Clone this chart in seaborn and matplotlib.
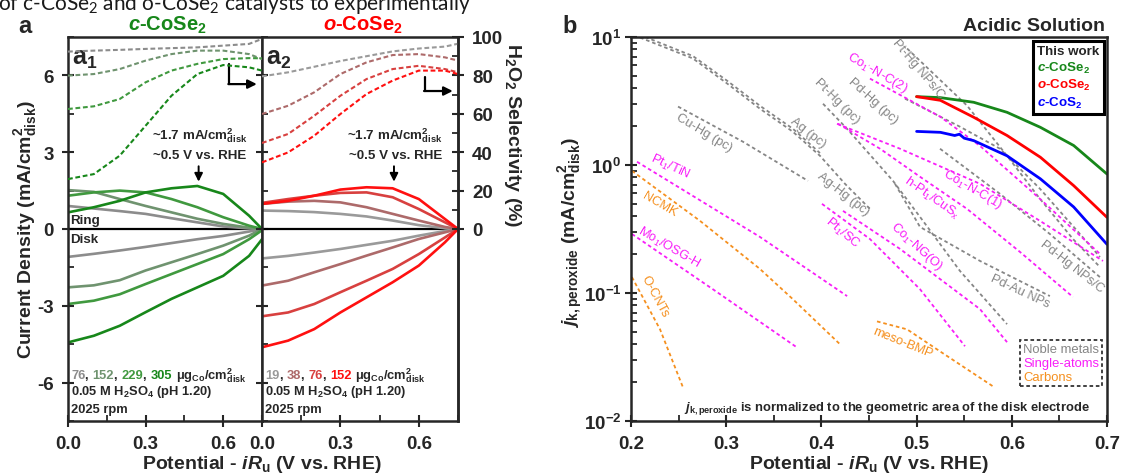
import numpy as np
import pandas as pd
import matplotlib
matplotlib.use('Agg')
import matplotlib.pyplot as plt
import seaborn as sns
from matplotlib.offsetbox import TextArea, HPacker, AnnotationBbox
from matplotlib.ticker import MultipleLocator, LogLocator, NullFormatter
from matplotlib.lines import Line2D

# ---------------- data: panel a1 (c-CoSe2) ----------------
pot_a = [0.0, 0.1, 0.2, 0.3, 0.4, 0.5, 0.6, 0.7, 0.75]
c_loadings = ['76', '152', '229', '305']
c_disk_76 = [-1.09, -0.97, -0.84, -0.70, -0.55, -0.40, -0.27, -0.10, 0.0]
c_disk_152 = [-2.28, -2.20, -2.00, -1.62, -1.30, -0.98, -0.65, -0.26, 0.0]
c_disk_229 = [-2.93, -2.80, -2.55, -2.15, -1.76, -1.37, -0.98, -0.40, -0.05]
c_disk_305 = [-4.43, -4.17, -3.78, -3.25, -2.73, -2.28, -1.83, -1.05, -0.40]
c_ring_76 = [0.90, 0.80, 0.70, 0.59, 0.42, 0.26, 0.10, 0.02, 0.0]
c_ring_152 = [1.52, 1.45, 1.17, 0.90, 0.65, 0.40, 0.20, 0.05, 0.0]
c_ring_229 = [1.30, 1.43, 1.50, 1.43, 1.17, 0.85, 0.46, 0.13, 0.0]
c_ring_305 = [0.65, 0.85, 1.10, 1.43, 1.59, 1.68, 1.37, 0.52, 0.0]
c_sel_76 = [92.4, 92.9, 93.3, 93.8, 94.2, 94.6, 95.5, 96.4, 99.0]
c_sel_152 = [79.9, 80.7, 83.3, 87.7, 91.1, 92.9, 92.9, 91.1, 88.5]
c_sel_229 = [62.5, 63.9, 67.7, 76.4, 82.5, 86.0, 88.5, 89.0, 88.9]
c_sel_305 = [26.0, 28.6, 38.2, 53.8, 69.4, 80.7, 85.4, 84.2, 82.5]

# ---------------- data: panel a2 (o-CoSe2) ----------------
o_loadings = ['19', '38', '76', '152']
o_disk_19 = [-1.15, -1.05, -0.92, -0.78, -0.62, -0.46, -0.26, -0.08, 0.0]
o_disk_38 = [-2.21, -2.02, -1.69, -1.37, -1.04, -0.72, -0.39, -0.13, 0.0]
o_disk_76 = [-3.41, -3.26, -2.93, -2.47, -2.02, -1.56, -0.98, -0.33, 0.0]
o_disk_152 = [-4.62, -4.36, -3.91, -3.26, -2.67, -2.08, -1.43, -0.52, 0.0]
o_ring_19 = [0.72, 0.70, 0.66, 0.59, 0.49, 0.33, 0.15, 0.03, 0.0]
o_ring_38 = [0.98, 1.07, 1.10, 1.04, 0.85, 0.59, 0.33, 0.08, 0.0]
o_ring_76 = [1.02, 1.17, 1.30, 1.41, 1.43, 1.24, 0.78, 0.26, 0.0]
o_ring_152 = [0.98, 1.10, 1.30, 1.54, 1.63, 1.59, 1.17, 0.39, 0.0]
o_sel_19 = [79.5, 81.6, 84.5, 87.5, 90.0, 92.5, 94.0, 95.0, 96.5]
o_sel_38 = [59.9, 64.2, 71.2, 80.7, 86.8, 90.6, 91.1, 89.4, 87.7]
o_sel_76 = [44.8, 49.5, 59.0, 69.4, 78.1, 83.3, 85.0, 83.3, 81.6]
o_sel_152 = [34.7, 39.9, 48.6, 59.9, 70.3, 77.3, 82.5, 82.5, 80.7]

# ---------------- data: panel b ----------------
tw_v = [0.5, 0.525, 0.56, 0.595, 0.63, 0.665, 0.7]
ccose2_j = [3.42, 3.36, 3.09, 2.58, 1.97, 1.42, 0.85]
ocose2_j = [3.42, 3.20, 2.36, 1.70, 1.15, 0.69, 0.39]
ccos2_v = [0.5, 0.525, 0.54, 0.545, 0.55, 0.56, 0.595, 0.63, 0.665, 0.7]
ccos2_j = [1.83, 1.80, 1.70, 1.74, 1.62, 1.55, 1.18, 0.78, 0.47, 0.24]

# noble metals
agpc_v = [0.215, 0.265, 0.301, 0.3355, 0.370, 0.3985]
agpc_j = [10.0, 7.1, 4.55, 2.9, 1.92, 1.24]
aghg_v = [0.2095, 0.265, 0.301, 0.3355, 0.370, 0.3985, 0.425, 0.451]
aghg_j = [9.9, 6.8, 4.33, 2.75, 1.82, 1.18, 0.71, 0.454]
cuhg_v = [0.2494, 0.3176, 0.3859]
cuhg_j = [2.86, 1.52, 0.752]
pthg_v = [0.4017, 0.4269, 0.4752, 0.5067, 0.5456, 0.595]
pthg_j = [3.01, 1.92, 0.752, 0.366, 0.1485, 0.0571]
pdhg_v = [0.4878, 0.5456, 0.5876, 0.6296, 0.6716, 0.6926]
pdhg_j = [3.30, 1.99, 1.34, 0.652, 0.289, 0.191]
pthgnp_v = [0.49, 0.553, 0.595, 0.6296, 0.6643, 0.6926]
pthgnp_j = [8.13, 2.91, 1.18, 0.544, 0.264, 0.1595]
pdhgnp_v = [0.5246, 0.5876, 0.64, 0.6926]
pdhgnp_j = [1.34, 0.595, 0.289, 0.133]
pdau_v = [0.4773, 0.5036, 0.5666, 0.64]
pdau_j = [0.713, 0.328, 0.178, 0.0946]
# single atoms
pttin_v = [0.2063, 0.3355, 0.427]
pttin_j = [1.06, 0.274, 0.0946]
mo_v = [0.201, 0.286, 0.374]
mo_j = [0.289, 0.107, 0.0377]
ptsc_v = [0.4006, 0.451, 0.5036, 0.5508]
ptsc_j = [0.497, 0.264, 0.107, 0.0384]
cong_v = [0.4227, 0.4826, 0.5666, 0.595]
cong_j = [0.438, 0.221, 0.0748, 0.0413]
conc2_v = [0.451, 0.5246, 0.5666, 0.6296, 0.6926]
conc2_j = [4.73, 2.39, 1.41, 0.544, 0.202]
conc1_v = [0.4164, 0.4826, 0.5666, 0.6296, 0.6958]
conc1_j = [2.10, 1.34, 0.713, 0.366, 0.178]
hpt_v = [0.4174, 0.4616, 0.5036, 0.553, 0.6087, 0.6643]
hpt_j = [2.10, 1.34, 0.809, 0.454, 0.209, 0.093]
# carbons
ncmk_v = [0.201, 0.2725, 0.3355, 0.370, 0.4195]
ncmk_j = [0.90, 0.366, 0.154, 0.0895, 0.0398]
ocnt_v = [0.201, 0.2305, 0.2546]
ocnt_j = [0.133, 0.052, 0.0183]
meso_v = [0.4584, 0.49, 0.5246, 0.580]
meso_j = [0.060, 0.052, 0.035, 0.0187]

# ---------------- style ----------------
sns.set_style('ticks')
plt.rcParams['font.family'] = ['Liberation Sans', 'DejaVu Sans']
plt.rcParams['font.weight'] = 'bold'
plt.rcParams['axes.labelweight'] = 'bold'
plt.rcParams['axes.unicode_minus'] = False
plt.rcParams['mathtext.fontset'] = 'custom'
plt.rcParams['mathtext.rm'] = 'Liberation Sans:bold'
plt.rcParams['mathtext.it'] = 'Liberation Sans:bold:italic'
plt.rcParams['mathtext.bf'] = 'Liberation Sans:bold'
plt.rcParams['mathtext.default'] = 'regular'

C_COLS = ['#8c8c8c', '#6f936f', '#40993f', '#17871a']
O_COLS = ['#9a9a9a', '#ad6a6a', '#d8403f', '#ff1010']
GRAY = '#868686'
MAG = '#f81ef8'
ORG = '#f5901f'
DASH_A = (0, (2.3, 1.3))
DASH_B = (0, (2.0, 1.6))
TICK = 13.5

W, H = 1121, 477
fig = plt.figure(figsize=(W / 100, H / 100), dpi=100)
ax1 = fig.add_axes([68 / W, 55 / H, 194 / W, 384 / H])
ax2 = fig.add_axes([262 / W, 55 / H, 196 / W, 384 / H])
axb = fig.add_axes([631 / W, 55 / H, 476 / W, 384 / H])
t1 = ax1.twinx()
t2 = ax2.twinx()


def style_a(ax, left_labels):
    ax.set_xlim(0, 0.75)
    ax.set_ylim(-7.5, 7.5)
    ax.xaxis.set_major_locator(MultipleLocator(0.3))
    ax.xaxis.set_minor_locator(MultipleLocator(0.15))
    ax.yaxis.set_major_locator(MultipleLocator(3))
    ax.yaxis.set_minor_locator(MultipleLocator(1.5))
    ax.tick_params(which='major', direction='inout', length=8, width=1.5,
                   labelsize=TICK, pad=6, top=False, right=False, labelleft=left_labels)
    ax.tick_params(which='minor', direction='in', length=4, width=1.3, top=False, right=False)
    for s in ax.spines.values():
        s.set_linewidth(1.8)
        s.set_visible(True)
    ax.axhline(0, color='black', lw=1.6, zorder=1)


style_a(ax1, True)
style_a(ax2, False)

for t in (t1, t2):
    t.set_ylim(-100, 100)
    t.yaxis.set_major_locator(MultipleLocator(20))
    t.yaxis.set_minor_locator(MultipleLocator(10))
t1.set_axis_off()
t2.set_yticks([0, 20, 40, 60, 80, 100])
t2.set_yticks([10, 30, 50, 70, 90], minor=True)
t2.tick_params(which='major', direction='inout', length=8, width=1.5, labelsize=TICK, pad=6)
t2.tick_params(which='minor', direction='in', length=4, width=1.3)
for k in ('left', 'top', 'bottom'):
    t2.spines[k].set_visible(False)
t2.spines['right'].set_linewidth(1.8)


def plot_set(ax, tax, disks, rings, sels, cols):
    for d, r, s, c in zip(disks, rings, sels, cols):
        sns.lineplot(x=pot_a, y=d, ax=ax, color=c, lw=1.9, estimator=None, sort=False)
        sns.lineplot(x=pot_a, y=r, ax=ax, color=c, lw=1.9, estimator=None, sort=False)
        sns.lineplot(x=pot_a, y=s, ax=tax, color=c, lw=1.5, linestyle=DASH_A,
                     estimator=None, sort=False)


plot_set(ax1, t1, [c_disk_76, c_disk_152, c_disk_229, c_disk_305],
         [c_ring_76, c_ring_152, c_ring_229, c_ring_305],
         [c_sel_76, c_sel_152, c_sel_229, c_sel_305], C_COLS)
plot_set(ax2, t2, [o_disk_19, o_disk_38, o_disk_76, o_disk_152],
         [o_ring_19, o_ring_38, o_ring_76, o_ring_152],
         [o_sel_19, o_sel_38, o_sel_76, o_sel_152], O_COLS)
for a in (ax1, ax2, t1, t2):
    a.set_xlabel('')
    a.set_ylabel('')
t1.set_ylim(-100, 100)
t2.set_ylim(-100, 100)


def multicolor(ax, x, y, parts, size=9.3):
    boxes = [TextArea(s, textprops=dict(color=c, fontsize=size, fontweight='bold'))
             for s, c in parts]
    pack = HPacker(children=boxes, align='baseline', pad=0, sep=0)
    ab = AnnotationBbox(pack, (x, y), xycoords='data', box_alignment=(0, 0.5),
                        frameon=False, pad=0)
    ax.add_artist(ab)


TXT = '#262626'
for ax, labs, cols, sub, arrow_y in ((ax1, c_loadings, C_COLS, '1', (6.45, 5.66)),
                                     (ax2, o_loadings, O_COLS, '2', (5.94, 5.39))):
    ax.text(0.016, 6.45, 'a$_%s$' % sub, fontsize=18, ha='left', va='baseline')
    ax.text(0.51, 3.67, '~1.7 mA/cm$^{2}_{disk}$', fontsize=9.6, ha='center', va='center')
    ax.text(0.51, 2.89, '~0.5 V vs. RHE', fontsize=9.6, ha='center', va='center')
    ax.annotate('', xy=(0.505, 1.85), xytext=(0.505, 2.45),
                arrowprops=dict(arrowstyle='-|>', color='black', lw=1.4,
                                mutation_scale=12, shrinkA=0, shrinkB=0))
    ax.plot([0.622, 0.622], [arrow_y[0], arrow_y[1]], color='black', lw=1.6)
    ax.annotate('', xy=(0.73, arrow_y[1]), xytext=(0.62, arrow_y[1]),
                arrowprops=dict(arrowstyle='-|>', color='black', lw=1.6,
                                mutation_scale=13, shrinkA=0, shrinkB=0))
    parts = []
    for i, (l, c) in enumerate(zip(labs, cols)):
        parts.append((l, c))
        parts.append((', ' if i < 3 else ' ', TXT))
    parts.append(('μg$_{Co}$/cm$^{2}_{disk}$', TXT))
    multicolor(ax, 0.012, -5.68, parts)
    ax.text(0.012, -6.33, '0.05 M H$_2$SO$_4$ (pH 1.20)', fontsize=9.3, color=TXT,
            ha='left', va='center')
    ax.text(0.012, -7.03, '2025 rpm', fontsize=9.3, color=TXT, ha='left', va='center')

ax1.text(0.01, 0.12, 'Ring', fontsize=9.6, color=TXT, ha='left', va='bottom')
ax1.text(0.01, -0.15, 'Disk', fontsize=9.6, color=TXT, ha='left', va='top')

# ---------------- panel b ----------------
axb.set_yscale('log')
lines_b = [
    (agpc_v, agpc_j, GRAY), (aghg_v, aghg_j, GRAY), (cuhg_v, cuhg_j, GRAY),
    (pthg_v, pthg_j, GRAY), (pdhg_v, pdhg_j, GRAY), (pthgnp_v, pthgnp_j, GRAY),
    (pdhgnp_v, pdhgnp_j, GRAY), (pdau_v, pdau_j, GRAY),
    (pttin_v, pttin_j, MAG), (mo_v, mo_j, MAG), (ptsc_v, ptsc_j, MAG),
    (cong_v, cong_j, MAG), (conc2_v, conc2_j, MAG), (conc1_v, conc1_j, MAG),
    (hpt_v, hpt_j, MAG),
    (ncmk_v, ncmk_j, ORG), (ocnt_v, ocnt_j, ORG), (meso_v, meso_j, ORG),
]
for v, j, c in lines_b:
    sns.lineplot(x=v, y=j, ax=axb, color=c, lw=1.3, linestyle=DASH_B,
                 estimator=None, sort=False)
sns.lineplot(x=tw_v, y=ccose2_j, ax=axb, color='#17871a', lw=2.0, estimator=None, sort=False)
sns.lineplot(x=tw_v, y=ocose2_j, ax=axb, color='#ff0000', lw=2.0, estimator=None, sort=False)
sns.lineplot(x=ccos2_v, y=ccos2_j, ax=axb, color='#0000ff', lw=2.0, estimator=None, sort=False)
axb.set_xlabel('')
axb.set_ylabel('')
axb.set_xlim(0.2, 0.7)
axb.set_ylim(0.01, 10)
axb.xaxis.set_major_locator(MultipleLocator(0.1))
axb.xaxis.set_minor_locator(MultipleLocator(0.05))
axb.yaxis.set_major_locator(LogLocator(base=10, numticks=10))
axb.yaxis.set_minor_locator(LogLocator(base=10, subs=np.arange(2, 10), numticks=20))
axb.yaxis.set_minor_formatter(NullFormatter())
axb.tick_params(which='major', direction='inout', length=8, width=1.5, labelsize=TICK,
                pad=6, top=False, right=False)
axb.tick_params(axis='y', which='major', pad=3)
axb.tick_params(which='minor', direction='in', length=4, width=1.3, top=False, right=False)
for s in axb.spines.values():
    s.set_linewidth(1.8)

blabels = [
    ('Cu-Hg (pc)', 0.2767, 1.82, -31, GRAY), ('Ag (pc)', 0.386, 1.82, -38, GRAY),
    ('Ag-Hg (pc)', 0.4227, 0.596, -38, GRAY), ('Pt-Hg (pc)', 0.4164, 3.19, -45, GRAY),
    ('Pd-Hg (pc)', 0.4542, 3.19, -42, GRAY), ('Pt-Hg NPs/C', 0.5015, 5.66, -50, GRAY),
    ('Pd-Hg NPs/C', 0.6632, 0.1626, -38, GRAY), ('Pd-Au NPs', 0.6086, 0.1035, -25, GRAY),
    ("Co$_{1'}$-N-C(2)", 0.4584, 5.37, -30, MAG), ('Pt$_1$/TiN', 0.241, 0.986, -25, MAG),
    ('Mo$_1$/OSG-H', 0.2399, 0.229, -30, MAG), ('Pt$_1$/SC', 0.4216, 0.30, -40, MAG),
    ('Co$_1$-NG(O)', 0.5004, 0.233, -42, MAG), ('h-Pt$_1$/CuS$_x$', 0.5162, 0.563, -35, MAG),
    ('Co$_1$-N-C(1)', 0.5592, 0.652, -30, MAG),
    ('NCMK', 0.2305, 0.497, -30, ORG), ('O-CNTs', 0.2252, 0.0946, -62, ORG),
    ('meso-BMP', 0.4857, 0.0413, -22, ORG),
]
for s, x, y, r, c in blabels:
    axb.text(x, y, s, color=c, fontsize=9.3, fontweight='normal', rotation=r,
             rotation_mode='anchor', ha='center', va='center')

axb.text(0.537, 0.036, '$\\mathit{j}_{k,peroxide}$ is normalized to the geometric area of the disk electrode',
         transform=axb.transAxes, fontsize=9.4, color=TXT, ha='center', va='center')

h = [Line2D([], [], lw=0) for _ in range(3)]
leg1 = axb.legend(h, ['$\\mathit{c}$-CoSe$_2$', '$\\mathit{o}$-CoSe$_2$', '$\\mathit{c}$-CoS$_2$'],
                  title='This work', loc='upper right', bbox_to_anchor=(0.993, 0.99),
                  handlelength=0, handletextpad=0, labelcolor=['#17871a', '#ff0000', '#0000ff'],
                  fancybox=False, edgecolor='black', framealpha=1, borderpad=0.3,
                  labelspacing=0.2, borderaxespad=0, alignment='left',
                  prop={'weight': 'bold', 'size': 9.6}, title_fontproperties={'weight': 'bold', 'size': 9.6})
leg1.get_frame().set_linewidth(2.2)
axb.add_artist(leg1)
h2 = [Line2D([], [], lw=0) for _ in range(3)]
leg2 = axb.legend(h2, ['Noble metals', 'Single-atoms', 'Carbons'], loc='lower right',
                  bbox_to_anchor=(0.99, 0.09), handlelength=0, handletextpad=0,
                  labelcolor=[GRAY, MAG, ORG], fancybox=False, edgecolor='#333333',
                  framealpha=1, borderpad=0.25, labelspacing=0.15, borderaxespad=0,
                  prop={'weight': 'normal', 'size': 9.4})
leg2.get_frame().set_linestyle((0, (2, 1.5)))
leg2.get_frame().set_linewidth(1.3)

# ---------------- figure texts ----------------
fy = lambda py: 1 - py / H
fx = lambda px: px / W
fig.text(fx(-2), fy(10), 'of c-CoSe$_2$ and o-CoSe$_2$ catalysts to experimentally',
         fontsize=15, family=['Lato', 'DejaVu Sans'], fontweight='normal', color='#1a1a1a',
         ha='left', va='baseline', zorder=0)
fig.text(fx(18), fy(33), 'a', fontsize=17, ha='left', va='baseline')
fig.text(fx(562), fy(33), 'b', fontsize=17, ha='left', va='baseline')
fig.text(fx(167), fy(31), '$\\mathit{c}$-CoSe$_2$', fontsize=14.5, color='#17871a', ha='center', va='baseline')
fig.text(fx(363), fy(31), '$\\mathit{o}$-CoSe$_2$', fontsize=14.5, color='#ff0000', ha='center', va='baseline')
fig.text(fx(1105), fy(31), 'Acidic Solution', fontsize=14, ha='right', va='baseline')
fig.text(fx(26), fy(230), 'Current Density (mA/cm$^{2}_{disk}$)', fontsize=14, rotation=90,
         ha='center', va='center')
fig.text(fx(512), fy(135), 'H$_2$O$_2$ Selectivity (%)', fontsize=14, rotation=270,
         ha='center', va='center')
fig.text(fx(571), fy(232), '$\\mathit{j}_{k,peroxide}$ (mA/cm$^{2}_{disk}$)', fontsize=14,
         rotation=90, ha='center', va='center')
fig.text(fx(262), fy(465), 'Potential - $\\mathit{iR}_u$ (V vs. RHE)', fontsize=14,
         ha='center', va='center')
fig.text(fx(869), fy(465), 'Potential - $\\mathit{iR}_u$ (V vs. RHE)', fontsize=14,
         ha='center', va='center')

fig.savefig('out.png', dpi=100)
